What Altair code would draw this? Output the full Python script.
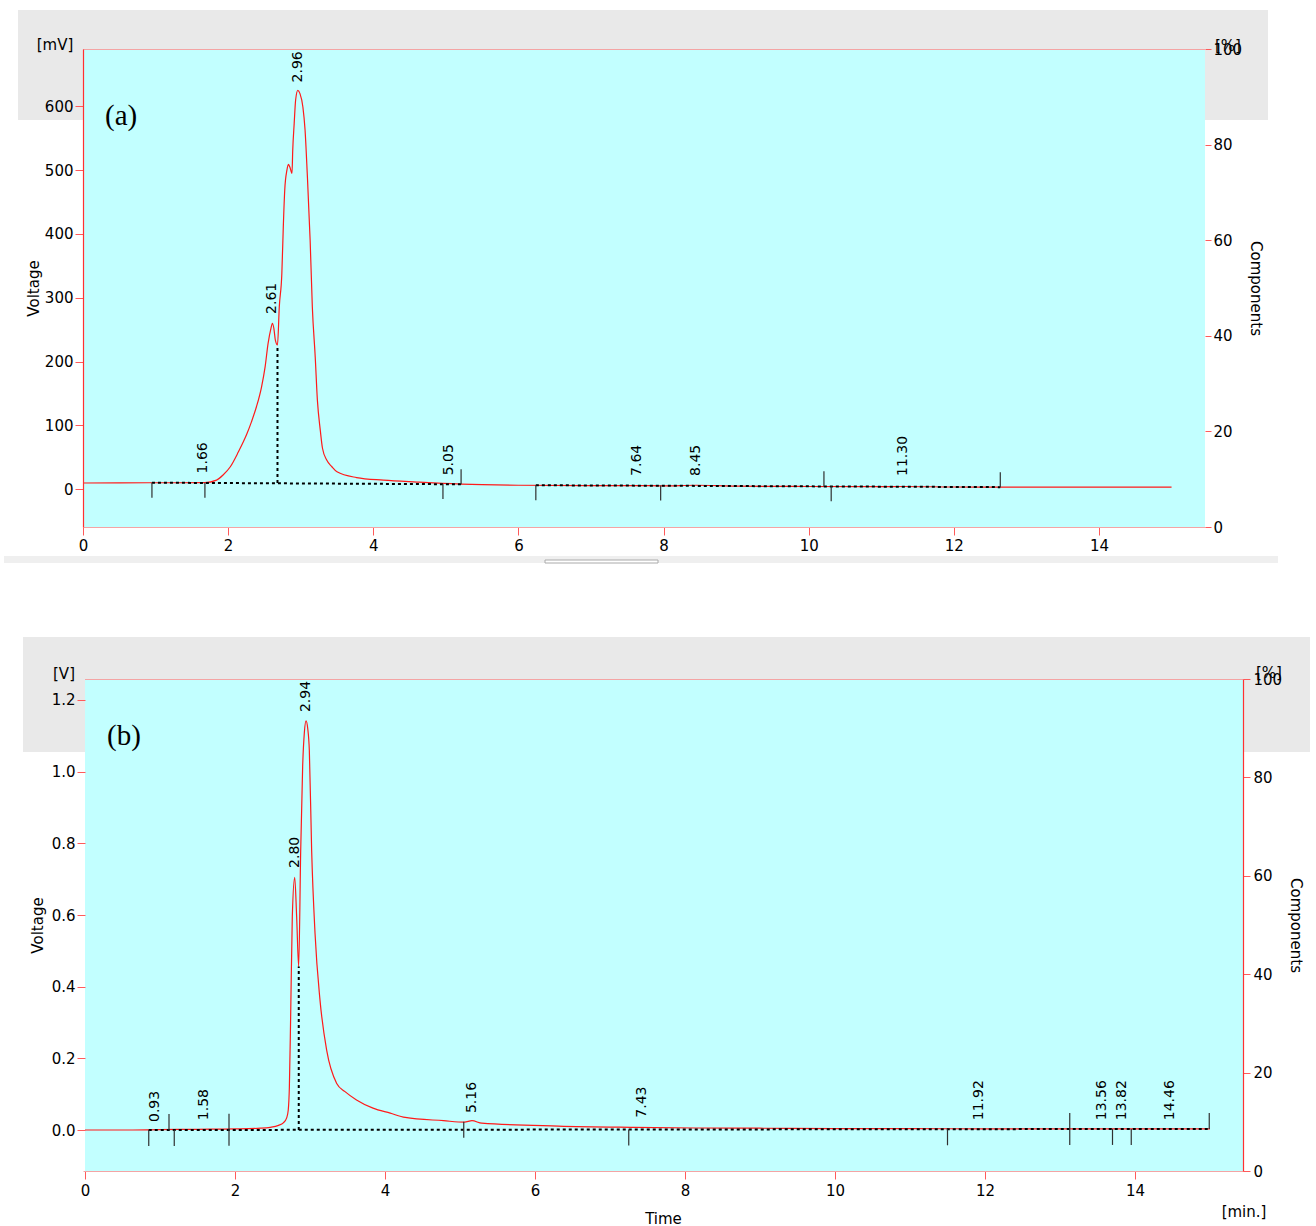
import altair as alt
import pandas as pd

FONT = "DejaVu Sans"
SERIF = "Liberation Serif"
CURVE_RED = "#ff1a1a"
AXIS_RED = "#ff3030"
TICK_RED = "#ff5a5a"
BORDER_RED = "#f4a4a4"
CYAN = "#c2ffff"
BAND = "#e9e9e9"

# ---------------- panel (a) data ----------------
a_time = [0.0, 0.50, 0.92, 1.30, 1.68, 1.84, 1.93, 2.03, 2.14, 2.26, 2.32, 2.39, 2.46, 2.51, 2.55,
          2.59, 2.61, 2.63, 2.65, 2.68, 2.705, 2.74, 2.76, 2.78, 2.81, 2.83, 2.85, 2.88, 2.89, 2.91,
          2.93, 2.96, 2.99, 3.03, 3.06, 3.09, 3.13, 3.16, 3.20, 3.23, 3.27, 3.30, 3.36, 3.43, 3.50,
          3.77, 4.14, 4.60, 4.96, 5.50, 6.00, 7.00, 7.64, 8.00, 8.45, 9.00, 10.00, 11.00, 11.30, 12.00,
          12.64, 13.50, 15.00]
a_mv = [9.5, 9.8, 9.9, 9.9, 10, 14, 22, 35, 58, 87, 105, 129, 160, 192, 228,
        252, 260, 252, 234, 226, 286, 338, 411, 469, 500, 509, 505, 495, 531, 573,
        610, 625, 620, 599, 563, 495, 390, 286, 207, 139, 92, 64, 45, 35, 27,
        18, 14, 11, 9, 7, 6, 5.5, 5.5, 5, 6, 4.5, 4, 3.8, 4, 3.2,
        3, 3, 3]
a_label_time = [1.66, 2.61, 2.96, 5.05, 7.64, 8.45, 11.30]
a_label_level = [12, 262, 625, 9, 8, 8, 8]
a_tick_time = [0.95, 1.68, 4.96, 5.21, 6.24, 7.96, 10.21, 10.31, 12.64]
a_tick_kind = ["start", "start", "start", "end", "start", "start", "end", "start", "end"]
a_tick_level = [10, 10, 8, 7.5, 6, 5.5, 4.5, 4.3, 3]
a_base_t0 = [0.95, 6.24]
a_base_t1 = [5.21, 12.64]
a_base_v0 = [10, 6]
a_base_v1 = [7.5, 3]
a_drop_t = [2.68]
a_drop_top = [226]
a_drop_bottom = [9.5]
a_yticks = [0, 100, 200, 300, 400, 500, 600]

# ---------------- panel (b) data ----------------
b_time = [0.0, 0.50, 1.00, 1.50, 2.00, 2.34, 2.47, 2.58, 2.644, 2.689, 2.71, 2.725, 2.742, 2.764, 2.796,
          2.822, 2.849, 2.876, 2.902, 2.925, 2.947, 2.97, 2.991, 3.022, 3.067, 3.133, 3.222, 3.356, 3.467, 3.62,
          3.84, 4.07, 4.27, 4.78, 5.06, 5.16, 5.29, 6.31, 7.32, 8.14, 9.0, 10.0, 11.0, 12.0, 13.0,
          14.0, 15.0]
b_volt = [0.0, 0.0, 0.001, 0.002, 0.003, 0.005, 0.0075, 0.013, 0.02, 0.034, 0.056, 0.12, 0.316, 0.595, 0.705,
          0.595, 0.456, 0.78, 1.014, 1.11, 1.142, 1.12, 1.06, 0.78, 0.549, 0.363, 0.223, 0.130, 0.107, 0.084,
          0.061, 0.047, 0.035, 0.026, 0.022, 0.026, 0.019, 0.011, 0.0075, 0.0056, 0.005, 0.004, 0.004, 0.003, 0.003,
          0.003, 0.003]
b_label_time = [0.93, 1.58, 2.80, 2.94, 5.16, 7.43, 11.92, 13.56, 13.82, 14.46]
b_label_level = [0.0, 0.005, 0.709, 1.144, 0.025, 0.012, 0.005, 0.005, 0.005, 0.005]
b_tick_time = [0.85, 1.12, 1.19, 1.92, 5.05, 7.25, 11.50, 13.13, 13.70, 13.95, 14.99]
b_tick_kind = ["start", "end", "start", "both", "mid", "start", "start", "both", "start", "start", "end"]
b_tick_level = [0.0, 0.0, 0.0, 0.0005, 0.001, 0.0015, 0.002, 0.0025, 0.003, 0.003, 0.003]
b_base_t0 = [0.85]
b_base_t1 = [15.0]
b_base_v0 = [0.0]
b_base_v1 = [0.003]
b_drop_t = [2.85]
b_drop_top = [0.456]
b_drop_bottom = [0.0]
b_yticks = [0.0, 0.2, 0.4, 0.6, 0.8, 1.0, 1.2]

x_ticks = [0, 2, 4, 6, 8, 10, 12, 14]
pct_ticks = [0, 20, 40, 60, 80, 100]


def tick_table(times, kinds, levels, unit_per_px, length_px):
    rows = []
    L = length_px * unit_per_px
    for t, k, v in zip(times, kinds, levels):
        if k == "start":
            lo, hi = v - L, v
        elif k == "end":
            lo, hi = v, v + L
        elif k == "both":
            lo, hi = v - L, v + L
        else:
            lo, hi = v - L / 2, v + L / 2
        rows.append({"t": t, "lo": lo, "hi": hi})
    return pd.DataFrame(rows)


def panel(p):
    W, H = p["W"], p["H"]
    xs = alt.Scale(domain=p["xdom"], nice=False, zero=False)
    ys = alt.Scale(domain=p["ydom"], nice=False, zero=False)
    unit_per_px = (p["ydom"][1] - p["ydom"][0]) / H
    one = pd.DataFrame({"k": [0]})
    layers = []

    bx0, bx1, by0, by1 = p["band"]
    layers.append(alt.Chart(one).mark_rect(color=BAND).encode(
        x=alt.value(bx0), x2=alt.value(bx1), y=alt.value(by0), y2=alt.value(by1)))
    for (sx0, sx1, sy0, sy1, fill, stroke) in p.get("extras", []):
        kw = {"fill": fill}
        if stroke:
            kw["stroke"] = stroke
            kw["strokeWidth"] = 1
        layers.append(alt.Chart(one).mark_rect(**kw).encode(
            x=alt.value(sx0), x2=alt.value(sx1), y=alt.value(sy0), y2=alt.value(sy1)))
    layers.append(alt.Chart(one).mark_rect(color=CYAN).encode(
        x=alt.value(p["bg_x0"]), x2=alt.value(W), y=alt.value(0), y2=alt.value(H)))
    layers.append(alt.Chart(one).mark_rule(color=BORDER_RED, strokeWidth=1).encode(
        x=alt.value(p["bg_x0"]), x2=alt.value(W), y=alt.value(0.5)))

    xaxis_kw = dict(values=x_ticks, format="d", grid=False, domainColor=BORDER_RED, domainWidth=1,
                    tickColor=TICK_RED, tickSize=8, labelFont=FONT, labelFontSize=15,
                    labelColor="black", labelPadding=p["xlabpad"], labelFlush=False, zindex=1)
    if p["xtitle"]:
        xaxis_kw.update(title=p["xtitle"], titleFont=FONT, titleFontSize=15, titleFontWeight="normal",
                        titleColor="black", titlePadding=p["xtitlepad"])
    else:
        xaxis_kw.update(title=None)

    curve_df = pd.DataFrame({"t": p["time"], "v": p["val"]})
    layers.append(alt.Chart(curve_df).mark_line(color=CURVE_RED, strokeWidth=1.2, interpolate="monotone").encode(
        x=alt.X("t:Q", scale=xs, axis=alt.Axis(**xaxis_kw)),
        y=alt.Y("v:Q", scale=ys, axis=alt.Axis(
            orient="left", values=p["yticks"], format=p["yfmt"], grid=False,
            domain=p["ydomain"], domainColor=AXIS_RED, domainWidth=1.2,
            tickColor=TICK_RED, tickSize=8, offset=p["yoffset"], zindex=1,
            labelFont=FONT, labelFontSize=15, labelColor="black", labelPadding=2,
            title="Voltage", titleFont=FONT, titleFontSize=15, titleFontWeight="normal",
            titleColor="black", titlePadding=p["ytitlepad"]))))

    base_df = pd.DataFrame({"t": p["bt0"], "t2": p["bt1"], "v": p["bv0"], "v2": p["bv1"]})
    layers.append(alt.Chart(base_df).mark_rule(color="black", strokeWidth=2, strokeDash=[3, 3]).encode(
        x=alt.X("t:Q", scale=xs), x2="t2:Q",
        y=alt.Y("v:Q", scale=ys, axis=None), y2="v2:Q"))
    drop_df = pd.DataFrame({"t": p["dt"], "v": p["dbot"], "v2": p["dtop"]})
    layers.append(alt.Chart(drop_df).mark_rule(color="black", strokeWidth=2, strokeDash=[3, 3]).encode(
        x=alt.X("t:Q", scale=xs),
        y=alt.Y("v:Q", scale=ys, axis=None), y2="v2:Q"))

    tdf = tick_table(p["tt"], p["tk"], p["tl"], unit_per_px, p["ticklen"])
    layers.append(alt.Chart(tdf).mark_rule(color="#303030", strokeWidth=1.2).encode(
        x=alt.X("t:Q", scale=xs),
        y=alt.Y("lo:Q", scale=ys, axis=None), y2="hi:Q"))

    ldf = pd.DataFrame({"t": p["lt"], "v": p["ll"], "lab": [f"{t:.2f}" for t in p["lt"]]})
    layers.append(alt.Chart(ldf).mark_text(angle=270, align="left", baseline="middle", dx=8,
                                           font=FONT, fontSize=14, color="black").encode(
        x=alt.X("t:Q", scale=xs),
        y=alt.Y("v:Q", scale=ys, axis=None), text="lab:N"))

    for (txt, tx, ty, font, size, align, angle) in p["texts"]:
        kw = dict(text=txt, font=font, fontSize=size, align=align, baseline="middle", color="black")
        if angle:
            kw["angle"] = angle
        layers.append(alt.Chart(one).mark_text(**kw).encode(x=alt.value(tx), y=alt.value(ty)))

    pct_df = pd.DataFrame({"p": [0, 100]})
    layers.append(alt.Chart(pct_df).mark_point(opacity=0).encode(
        y=alt.Y("p:Q", scale=alt.Scale(domain=[0, 100], nice=False), axis=alt.Axis(
            orient="right", values=pct_ticks, grid=False, domain=p["rdomain"], domainColor=AXIS_RED,
            domainWidth=1.2, tickColor=TICK_RED, tickSize=p["rticksize"], zindex=1,
            labelFont=FONT, labelFontSize=15, labelColor="black", labelPadding=p["rlabpad"],
            title="Components", titleFont=FONT, titleFontSize=15, titleFontWeight="normal",
            titleColor="black", titlePadding=p["rtitlepad"]))))

    return alt.layer(*layers).resolve_scale(y="independent").properties(width=W, height=H)


pa = panel(dict(
    W=1122, H=478, xdom=[0, 1122 / 72.57], ydom=[-59.5, 690.0], bg_x0=0,
    band=(-65, 1185, -39, 71),
    extras=[(-79, 1195, 507, 514, "#efefef", None), (462, 575, 511, 514, "#ffffff", "#aaaaaa")],
    time=a_time, val=a_mv, yticks=a_yticks, yfmt="d", ydomain=True, yoffset=0, ytitlepad=3,
    xtitle=None, xtitlepad=0, xlabpad=3,
    bt0=a_base_t0, bt1=a_base_t1, bv0=a_base_v0, bv1=a_base_v1,
    dt=a_drop_t, dtop=a_drop_top, dbot=a_drop_bottom,
    tt=a_tick_time, tk=a_tick_kind, tl=a_tick_level, ticklen=15,
    lt=a_label_time, ll=a_label_level,
    rdomain=False, rticksize=6, rlabpad=2, rtitlepad=6,
    texts=[("[mV]", -28, -4, FONT, 15, "center", 0),
           ("[%]", 1145, -3, FONT, 15, "center", 0),
           ("(a)", 22, 67, SERIF, 29, "left", 0)],
))

pb = panel(dict(
    W=1160, H=492, xdom=[-2 / 75, 15.44], ydom=[-0.1144, 1.2586], bg_x0=2,
    band=(-60, 1227, -42, 73),
    time=b_time, val=b_volt, yticks=b_yticks, yfmt=".1f", ydomain=False, yoffset=-2, ytitlepad=6,
    xtitle="Time", xtitlepad=13, xlabpad=4,
    bt0=b_base_t0, bt1=b_base_t1, bv0=b_base_v0, bv1=b_base_v1,
    dt=b_drop_t, dtop=b_drop_top, dbot=b_drop_bottom,
    tt=b_tick_time, tk=b_tick_kind, tl=b_tick_level, ticklen=16,
    lt=b_label_time, ll=b_label_level,
    rdomain=True, rticksize=7, rlabpad=3, rtitlepad=6,
    texts=[("[V]", -19, -5, FONT, 15, "center", 0),
           ("[%]", 1186, -6, FONT, 15, "center", 0),
           ("(b)", 24, 57, SERIF, 29, "left", 0),
           ("[min.]", 1161, 533, FONT, 15, "center", 0)],
))

chart = alt.vconcat(pa, pb, spacing=152, bounds="flush").properties(
    padding={"left": 4, "top": 10, "right": 0, "bottom": 0},
    background="white",
).configure_view(stroke=None)

chart.save("out.html", embed_options={"renderer": "svg", "actions": False})
